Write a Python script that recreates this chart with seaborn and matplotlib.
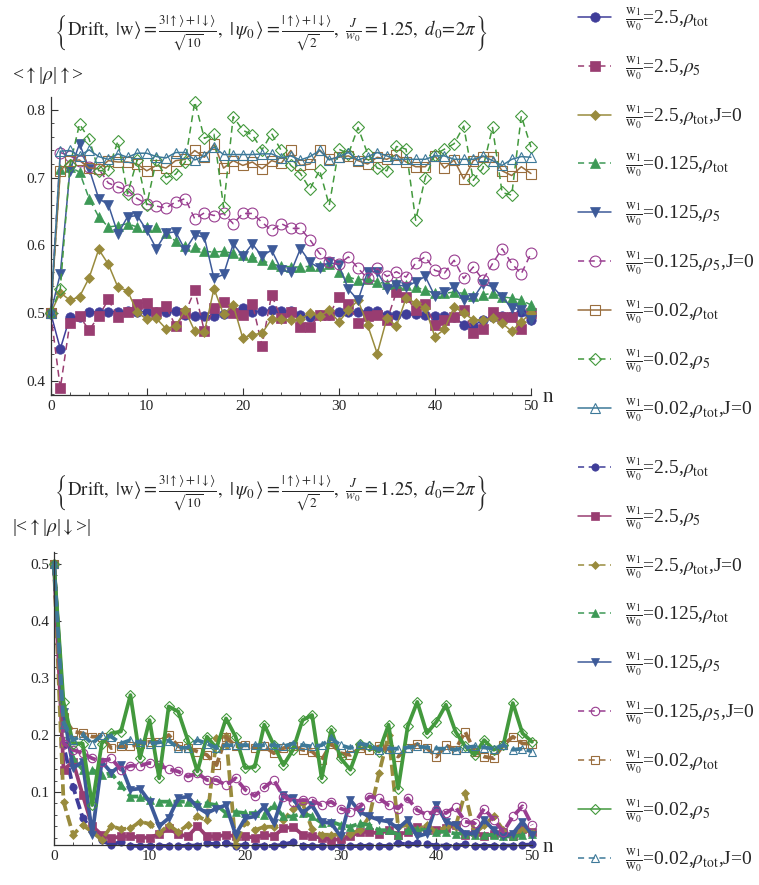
import pandas as pd
import matplotlib
matplotlib.use("Agg")
import matplotlib.pyplot as plt
from matplotlib.ticker import MultipleLocator
import seaborn as sns

n = list(range(51))

# top panel: <up|rho|up>
up_a = [0.5, 0.447, 0.494, 0.494, 0.502, 0.502, 0.502, 0.502, 0.503, 0.502,
        0.502, 0.502, 0.502, 0.503, 0.497, 0.496, 0.496, 0.496, 0.499, 0.503,
        0.507, 0.502, 0.503, 0.505, 0.503, 0.503, 0.497, 0.494, 0.497, 0.497,
        0.502, 0.502, 0.502, 0.503, 0.503, 0.497, 0.497, 0.498, 0.498, 0.497,
        0.496, 0.496, 0.494, 0.483, 0.481, 0.490, 0.494, 0.496, 0.496, 0.501,
        0.490]
up_b = [0.5, 0.389, 0.486, 0.495, 0.475, 0.495, 0.520, 0.494, 0.501, 0.514,
        0.515, 0.501, 0.510, 0.481, 0.5, 0.534, 0.473, 0.508, 0.516, 0.5,
        0.497, 0.514, 0.452, 0.527, 0.492, 0.502, 0.48, 0.48, 0.497, 0.497,
        0.524, 0.513, 0.486, 0.495, 0.497, 0.489, 0.531, 0.524, 0.504, 0.513,
        0.482, 0.49, 0.494, 0.504, 0.471, 0.477, 0.502, 0.494, 0.494, 0.477,
        0.5]
up_c = [0.5, 0.530, 0.519, 0.524, 0.552, 0.594, 0.572, 0.538, 0.533, 0.501,
        0.491, 0.492, 0.477, 0.481, 0.504, 0.473, 0.472, 0.536, 0.498, 0.512,
        0.463, 0.468, 0.470, 0.491, 0.491, 0.490, 0.491, 0.5, 0.495, 0.504,
        0.487, 0.504, 0.519, 0.482, 0.44, 0.492, 0.481, 0.522, 0.515, 0.507,
        0.465, 0.476, 0.509, 0.5, 0.49, 0.49, 0.492, 0.485, 0.473, 0.487,
        0.5]
up_d = [0.5, 0.713, 0.716, 0.708, 0.669, 0.642, 0.627, 0.629, 0.632, 0.627,
        0.627, 0.627, 0.618, 0.606, 0.599, 0.598, 0.591, 0.590, 0.591, 0.588,
        0.585, 0.583, 0.578, 0.572, 0.570, 0.568, 0.568, 0.569, 0.570, 0.572,
        0.561, 0.553, 0.549, 0.55, 0.546, 0.543, 0.544, 0.541, 0.538, 0.534,
        0.529, 0.529, 0.531, 0.529, 0.525, 0.527, 0.529, 0.524, 0.522, 0.519,
        0.512]
up_e = [0.5, 0.558, 0.710, 0.75, 0.713, 0.669, 0.66, 0.617, 0.642, 0.644,
        0.622, 0.595, 0.618, 0.62, 0.593, 0.615, 0.612, 0.551, 0.557, 0.602,
        0.584, 0.602, 0.584, 0.593, 0.564, 0.56, 0.595, 0.575, 0.566, 0.575,
        0.571, 0.535, 0.519, 0.561, 0.561, 0.536, 0.542, 0.539, 0.546, 0.554,
        0.525, 0.531, 0.539, 0.519, 0.522, 0.543, 0.539, 0.524, 0.507, 0.505,
        0.489]
up_f = [0.5, 0.737, 0.732, 0.725, 0.715, 0.713, 0.692, 0.686, 0.681, 0.669,
        0.661, 0.658, 0.655, 0.664, 0.669, 0.639, 0.648, 0.644, 0.647, 0.632,
        0.647, 0.647, 0.634, 0.622, 0.632, 0.625, 0.625, 0.608, 0.588, 0.576,
        0.572, 0.583, 0.566, 0.551, 0.566, 0.554, 0.561, 0.553, 0.574, 0.583,
        0.563, 0.559, 0.578, 0.551, 0.568, 0.549, 0.573, 0.595, 0.573, 0.558,
        0.588]
up_g = [0.5, 0.710, 0.725, 0.726, 0.714, 0.713, 0.725, 0.723, 0.723, 0.72,
        0.71, 0.718, 0.714, 0.725, 0.727, 0.74, 0.73, 0.749, 0.714, 0.725,
        0.718, 0.723, 0.713, 0.725, 0.721, 0.74, 0.718, 0.72, 0.741, 0.727,
        0.73, 0.732, 0.725, 0.72, 0.73, 0.727, 0.734, 0.723, 0.716, 0.716,
        0.732, 0.714, 0.726, 0.698, 0.725, 0.731, 0.731, 0.71, 0.703, 0.716,
        0.706]
up_h = [0.5, 0.536, 0.718, 0.779, 0.757, 0.710, 0.711, 0.754, 0.676, 0.726,
        0.66, 0.726, 0.70, 0.705, 0.723, 0.812, 0.758, 0.764, 0.656, 0.79,
        0.77, 0.763, 0.741, 0.765, 0.74, 0.718, 0.706, 0.683, 0.711, 0.659,
        0.742, 0.735, 0.774, 0.735, 0.714, 0.71, 0.746, 0.742, 0.637, 0.70,
        0.734, 0.742, 0.75, 0.776, 0.696, 0.714, 0.774, 0.678, 0.674, 0.791,
        0.745]
up_i = [0.5, 0.739, 0.74, 0.732, 0.741, 0.731, 0.727, 0.735, 0.73, 0.736,
        0.736, 0.731, 0.729, 0.737, 0.737, 0.726, 0.732, 0.745, 0.734, 0.734,
        0.734, 0.734, 0.735, 0.735, 0.729, 0.732, 0.726, 0.731, 0.74, 0.726,
        0.731, 0.737, 0.726, 0.731, 0.737, 0.732, 0.727, 0.727, 0.727, 0.727,
        0.732, 0.732, 0.727, 0.727, 0.727, 0.732, 0.725, 0.718, 0.727, 0.731,
        0.73]

# bottom panel: |<up|rho|down>|
ud_a = [0.5, 0.182, 0.109, 0.055, 0.033, 0.015, 0.007, 0.013, 0.006, 0.005,
        0.005, 0.006, 0.005, 0.005, 0.006, 0.006, 0.01, 0.008, 0.01, 0.006,
        0.007, 0.006, 0.006, 0.005, 0.008, 0.012, 0.006, 0.005, 0.005, 0.006,
        0.005, 0.005, 0.005, 0.006, 0.006, 0.005, 0.01, 0.008, 0.01, 0.009,
        0.006, 0.006, 0.005, 0.008, 0.005, 0.006, 0.005, 0.006, 0.006, 0.007,
        0.008]
ud_b = [0.5, 0.139, 0.153, 0.095, 0.04, 0.025, 0.019, 0.022, 0.022, 0.02,
        0.02, 0.026, 0.036, 0.026, 0.022, 0.04, 0.022, 0.022, 0.025, 0.022,
        0.023, 0.019, 0.025, 0.023, 0.036, 0.039, 0.025, 0.022, 0.02, 0.016,
        0.017, 0.022, 0.03, 0.03, 0.027, 0.033, 0.025, 0.03, 0.039, 0.033,
        0.033, 0.036, 0.042, 0.025, 0.03, 0.022, 0.027, 0.03, 0.022, 0.035,
        0.03]
ud_c = [0.5, 0.083, 0.025, 0.042, 0.03, 0.016, 0.04, 0.035, 0.036, 0.048,
        0.044, 0.028, 0.042, 0.03, 0.042, 0.057, 0.05, 0.194, 0.198, 0.007,
        0.048, 0.033, 0.039, 0.039, 0.051, 0.07, 0.08, 0.035, 0.025, 0.025,
        0.025, 0.027, 0.033, 0.057, 0.133, 0.2, 0.039, 0.042, 0.033, 0.042,
        0.03, 0.039, 0.039, 0.098, 0.027, 0.042, 0.057, 0.033, 0.027, 0.033,
        0.03]
ud_d = [0.5, 0.218, 0.159, 0.139, 0.139, 0.13, 0.133, 0.112, 0.092, 0.092,
        0.086, 0.083, 0.083, 0.083, 0.083, 0.08, 0.08, 0.077, 0.063, 0.065,
        0.063, 0.063, 0.06, 0.077, 0.057, 0.057, 0.063, 0.057, 0.046, 0.048,
        0.042, 0.039, 0.045, 0.042, 0.033, 0.033, 0.025, 0.033, 0.035, 0.033,
        0.03, 0.03, 0.027, 0.027, 0.025, 0.024, 0.025, 0.022, 0.022, 0.024,
        0.027]
ud_e = [0.5, 0.24, 0.142, 0.153, 0.025, 0.153, 0.134, 0.147, 0.104, 0.106,
        0.083, 0.04, 0.054, 0.089, 0.092, 0.073, 0.063, 0.071, 0.077, 0.025,
        0.054, 0.057, 0.074, 0.045, 0.095, 0.089, 0.063, 0.077, 0.048, 0.045,
        0.022, 0.086, 0.065, 0.057, 0.051, 0.048, 0.036, 0.051, 0.022, 0.027,
        0.077, 0.048, 0.042, 0.027, 0.027, 0.051, 0.033, 0.022, 0.027, 0.048,
        0.025]
ud_f = [0.5, 0.185, 0.174, 0.168, 0.159, 0.153, 0.159, 0.139, 0.146, 0.146,
        0.151, 0.147, 0.14, 0.136, 0.127, 0.133, 0.121, 0.121, 0.112, 0.124,
        0.104, 0.093, 0.108, 0.121, 0.092, 0.083, 0.086, 0.085, 0.077, 0.083,
        0.071, 0.065, 0.074, 0.092, 0.089, 0.077, 0.071, 0.089, 0.068, 0.06,
        0.068, 0.063, 0.074, 0.048, 0.045, 0.071, 0.051, 0.03, 0.057, 0.075,
        0.042]
ud_g = [0.5, 0.232, 0.206, 0.203, 0.197, 0.197, 0.177, 0.18, 0.18, 0.185,
        0.188, 0.188, 0.2, 0.18, 0.177, 0.171, 0.165, 0.147, 0.197, 0.18,
        0.182, 0.177, 0.18, 0.168, 0.177, 0.18, 0.174, 0.171, 0.156, 0.185,
        0.168, 0.165, 0.177, 0.174, 0.18, 0.175, 0.162, 0.177, 0.184, 0.177,
        0.162, 0.182, 0.174, 0.206, 0.171, 0.162, 0.159, 0.182, 0.197, 0.185,
        0.185]
ud_h = [0.5, 0.258, 0.185, 0.185, 0.077, 0.185, 0.203, 0.206, 0.27, 0.159,
        0.226, 0.124, 0.25, 0.241, 0.191, 0.136, 0.197, 0.177, 0.229, 0.197,
        0.142, 0.144, 0.218, 0.182, 0.147, 0.174, 0.226, 0.235, 0.124, 0.209,
        0.159, 0.139, 0.185, 0.18, 0.171, 0.218, 0.106, 0.215, 0.258, 0.203,
        0.223, 0.253, 0.206, 0.18, 0.165, 0.191, 0.174, 0.182, 0.256, 0.203,
        0.188]
ud_i = [0.5, 0.22, 0.191, 0.2, 0.185, 0.2, 0.197, 0.185, 0.191, 0.187,
        0.185, 0.187, 0.19, 0.177, 0.178, 0.191, 0.185, 0.177, 0.182, 0.182,
        0.182, 0.182, 0.182, 0.182, 0.18, 0.185, 0.182, 0.18, 0.182, 0.194,
        0.182, 0.177, 0.185, 0.182, 0.174, 0.176, 0.176, 0.178, 0.18, 0.178,
        0.176, 0.176, 0.174, 0.178, 0.18, 0.178, 0.176, 0.182, 0.174, 0.176,
        0.171]

top_series = [up_a, up_b, up_c, up_d, up_e, up_f, up_g, up_h, up_i]
bot_series = [ud_a, ud_b, ud_c, ud_d, ud_e, ud_f, ud_g, ud_h, ud_i]

fr = r"$\frac{\mathrm{w}_1}{\mathrm{w}_0}$"
labels = [fr + r"=2.5,$\rho_{\mathrm{tot}}$",
          fr + r"=2.5,$\rho_5$",
          fr + r"=2.5,$\rho_{\mathrm{tot}}$,J=0",
          fr + r"=0.125,$\rho_{\mathrm{tot}}$",
          fr + r"=0.125,$\rho_5$",
          fr + r"=0.125,$\rho_5$,J=0",
          fr + r"=0.02,$\rho_{\mathrm{tot}}$",
          fr + r"=0.02,$\rho_5$",
          fr + r"=0.02,$\rho_{\mathrm{tot}}$,J=0"]

colors = [(0.247, 0.24, 0.6), (0.6, 0.24, 0.443), (0.6, 0.547, 0.24),
          (0.24, 0.6, 0.337), (0.24, 0.353, 0.6), (0.6, 0.24, 0.563),
          (0.6, 0.427, 0.24), (0.264, 0.6, 0.24), (0.24, 0.474, 0.6)]
markers = ['o', 's', 'D', '^', 'v', 'o', 's', 'D', '^']
filled = [True, True, True, True, True, False, False, False, False]
top_ls = ['-', '--', '-', '--', '-', '--', '-', '--', '-']
bot_ls = ['--', '-', '--', '--', '-', '--', '--', '-', '--']

sns.set_style("ticks")
plt.rcParams['font.family'] = ['Liberation Serif', 'DejaVu Serif']
plt.rcParams['mathtext.fontset'] = 'stix'

fig = plt.figure(figsize=(7.59, 8.85), dpi=100)
ax1 = fig.add_axes([0.0668, 0.5537, 0.6327, 0.3367])
ax2 = fig.add_axes([0.0711, 0.0452, 0.6298, 0.3311])


def draw(ax, series, styles, lw, dash, ms):
    for vals, lab, col, mk, fl, ls in zip(series, labels, colors, markers, filled, styles):
        df = pd.DataFrame({'n': n, 'v': vals})
        linestyle = (0, dash) if ls == '--' else '-'
        size = ms if fl else ms * 1.15
        if mk == 'D':
            size *= 0.8
        sns.lineplot(data=df, x='n', y='v', ax=ax, color=col, lw=lw,
                     linestyle=linestyle, marker=mk, markersize=size,
                     markerfacecolor=col if fl else 'none', markeredgecolor=col,
                     markeredgewidth=0.5 if fl else 0.8, label=lab, clip_on=False)


draw(ax1, top_series, top_ls, 1.1, (4.5, 3), 6.8)
draw(ax2, bot_series, bot_ls, 2.7, (3, 1.2), 5.3)

ax1.set_xlim(0, 50)
ax1.set_ylim(0.379, 0.819)
ax1.set_yticks([0.4, 0.5, 0.6, 0.7, 0.8])
ax2.set_xlim(0, 50)
ax2.set_ylim(0.007, 0.521)
ax2.set_yticks([0.1, 0.2, 0.3, 0.4, 0.5])

for ax in (ax1, ax2):
    ax.set_xticks([0, 10, 20, 30, 40, 50])
    ax.xaxis.set_minor_locator(MultipleLocator(2))
    ax.yaxis.set_minor_locator(MultipleLocator(0.02))
    ax.tick_params(which='major', direction='in', length=5, width=0.8,
                   labelsize=11, color='#333333')
    ax.tick_params(which='minor', direction='in', length=2.5, width=0.6,
                   color='#333333')
    ax.set_xlabel('')
    ax.set_ylabel('')
    sns.despine(ax=ax)
    for s in ('left', 'bottom'):
        ax.spines[s].set_color('#333333')
        ax.spines[s].set_linewidth(0.9)

title = (r"$\left\{\mathrm{Drift},\ |\mathrm{w}\rangle ="
         r"\frac{3|\uparrow\rangle+|\downarrow\rangle}{\sqrt{10}},\ |\,\psi_0\,\rangle ="
         r"\frac{|\uparrow\rangle+|\downarrow\rangle}{\sqrt{2}},\ \frac{J}{w_0} = 1.25,"
         r"\ d_0\!=\!2\pi\right\}$")
fig.text(271 / 759, 1 - 33 / 885, title, ha='center', va='center', fontsize=13.5)
fig.text(271 / 759, 1 - 493 / 885, title, ha='center', va='center', fontsize=13.5)
fig.text(12 / 759, 1 - 75 / 885, r"<$\uparrow$|$\rho$|$\uparrow$>",
         ha='left', va='center', fontsize=14)
fig.text(12 / 759, 1 - 528 / 885, r"|<$\uparrow$|$\rho$|$\downarrow$>|",
         ha='left', va='center', fontsize=14)
fig.text(543 / 759, 1 - 398 / 885, "n", ha='left', va='center', fontsize=15)
fig.text(543 / 759, 1 - 848 / 885, "n", ha='left', va='center', fontsize=15)

leg_kw = dict(loc='upper left', bbox_transform=fig.transFigure, frameon=False,
              fontsize=14, labelspacing=1.08, handlelength=1.7,
              handletextpad=0.7, borderaxespad=0, borderpad=0, numpoints=1)
leg1 = ax1.legend(bbox_to_anchor=(578 / 759, 1 - 5 / 885), **leg_kw)
leg2 = ax2.legend(bbox_to_anchor=(578 / 759, 1 - 455 / 885), **leg_kw)
for leg, styles in ((leg1, top_ls), (leg2, bot_ls)):
    for line, ls in zip(leg.get_lines(), styles):
        line.set_linewidth(1.1)
        if ls == '--':
            line.set_linestyle((0, (4, 3)))

fig.savefig('out.png', dpi=100)
